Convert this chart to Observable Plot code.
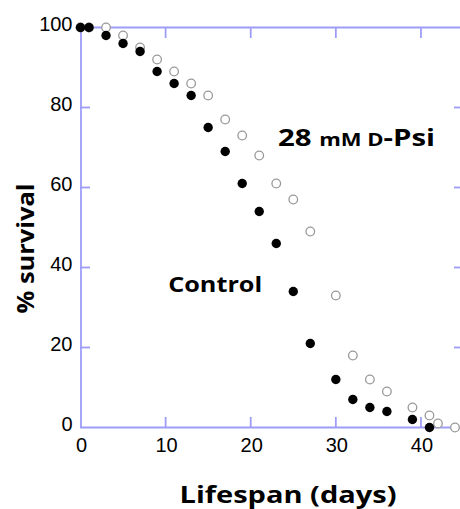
<!DOCTYPE html>
<html>
<head>
<meta charset="utf-8">
<script src="https://cdn.jsdelivr.net/npm/d3@7"></script>
<script src="https://cdn.jsdelivr.net/npm/@observablehq/plot@0.6"></script>
<style>
  html, body { margin: 0; padding: 0; background: #fff; overflow: hidden; }
  #chart svg { display: block; }
</style>
</head>
<body>
<div id="chart"></div>
<script>
// ---- data ----
const controlDays   = [0, 1, 3, 5, 7, 9, 11, 13, 15, 17, 19, 21, 23, 25, 27, 30, 32, 34, 36, 39, 41];
const controlSurv   = [100, 100, 98, 96, 94, 89, 86, 83, 75, 69, 61, 54, 46, 34, 21, 12, 7, 5, 4, 2, 0];
const psiDays       = [0, 1, 3, 5, 7, 9, 11, 13, 15, 17, 19, 21, 23, 25, 27, 30, 32, 34, 36, 39, 41, 42, 44];
const psiSurv       = [100, 100, 100, 98, 95, 92, 89, 86, 83, 77, 73, 68, 61, 57, 49, 33, 18, 12, 9, 5, 3, 1, 0];
const xTicks        = [0, 10, 20, 30, 40];
const yTicks        = [0, 20, 40, 60, 80, 100];
const xInnerTicks   = [10, 20, 30, 40];
const yInnerTicks   = [20, 40, 60, 80];

const control = controlDays.map((d, i) => ({day: d, surv: controlSurv[i]}));
const psi = psiDays.map((d, i) => ({day: d, surv: psiSurv[i]}));

const axisColor = "#9d9df8";
const lineW = 1.8;
const tickFont = "'Liberation Sans', Arial, sans-serif";
const boldFont = "'Open Sans', Lato, sans-serif";
const tickStyle = {stroke: axisColor, strokeWidth: lineW, strokeOpacity: 1, text: null, label: null, tickSize: 10};

const chart = Plot.plot({
  width: 460,
  height: 509,
  marginLeft: 80,
  marginRight: -3,
  marginTop: 27,
  marginBottom: 82,
  style: {background: "#fff", overflow: "visible"},
  x: {domain: [0, 45], axis: null},
  y: {domain: [0, 100], axis: null},
  marks: [
    // box lines
    Plot.ruleX([0, 45], {stroke: axisColor, strokeWidth: lineW, strokeOpacity: 1, dx: 0.5}),
    Plot.ruleY([0, 100], {stroke: axisColor, strokeWidth: lineW, strokeOpacity: 1}),
    // inward ticks
    Plot.axisX(xInnerTicks, {...tickStyle, anchor: "bottom", dy: -10}),
    Plot.axisX(xInnerTicks, {...tickStyle, anchor: "top", dy: 10}),
    Plot.axisY(yInnerTicks, {...tickStyle, anchor: "left", dx: 10}),
    Plot.axisY(yInnerTicks, {...tickStyle, anchor: "right", dx: -10}),
    // tick labels
    Plot.axisX(xTicks, {anchor: "bottom", tickSize: 0, tickPadding: 10, label: null, fontSize: 20, fontFamily: tickFont, fill: "#000", dx: 1}),
    Plot.axisY(yTicks, {anchor: "left", tickSize: 0, tickPadding: 8, label: null, fontSize: 20, fontFamily: tickFont, fill: "#000", dy: -3}),
    // data
    Plot.dot(psi, {x: "day", y: "surv", r: 4.3, fill: "#fff", stroke: "#9a9a9a", strokeWidth: 1.3}),
    Plot.dot(control, {x: "day", y: "surv", r: 4.7, fill: "#000", stroke: "none"}),
    // annotations
    Plot.text(["28 mM D-Psi"], {x: 23.2, y: 70.5, text: d => d, textAnchor: "start", lineAnchor: "bottom", fontSize: 24, fontWeight: "bold", fontFamily: boldFont, fill: "#000", className: "psi-label"}),
    Plot.text(["Control"], {x: 10.3, y: 33.8, text: d => d, textAnchor: "start", lineAnchor: "bottom", fontSize: 22, fontWeight: "bold", fontFamily: boldFont, fill: "#000", className: "ctrl-label"}),
    // axis titles
    Plot.text(["Lifespan (days)"], {frameAnchor: "bottom", text: d => d, textAnchor: "middle", lineAnchor: "bottom", dy: 75, dx: 16, fontSize: 23, fontWeight: "bold", fontFamily: boldFont, fill: "#000", className: "x-title"}),
    Plot.text(["% survival"], {frameAnchor: "left", text: d => d, rotate: -90, textAnchor: "middle", lineAnchor: "bottom", dx: -47, dy: 21, fontSize: 24, fontWeight: "bold", fontFamily: boldFont, fill: "#000", className: "y-title"})
  ]
});

const svg = d3.select(chart);
// mixed-size label: "28 mM D-Psi"
svg.selectAll("g.psi-label text").each(function() {
  const t = d3.select(this);
  t.text(null);
  t.append("tspan").text("28 ");
  t.append("tspan").attr("font-size", 18).text("mM D");
  t.append("tspan").text("-Psi");
  t.attr("textLength", 157).attr("lengthAdjust", "spacingAndGlyphs");
});
svg.selectAll("g.ctrl-label text").attr("textLength", 94).attr("lengthAdjust", "spacingAndGlyphs");
svg.selectAll("g.x-title text").attr("textLength", 217).attr("lengthAdjust", "spacingAndGlyphs");
svg.selectAll("g.y-title text").attr("textLength", 130).attr("lengthAdjust", "spacingAndGlyphs");

document.getElementById("chart").appendChild(chart);
</script>
</body>
</html>
